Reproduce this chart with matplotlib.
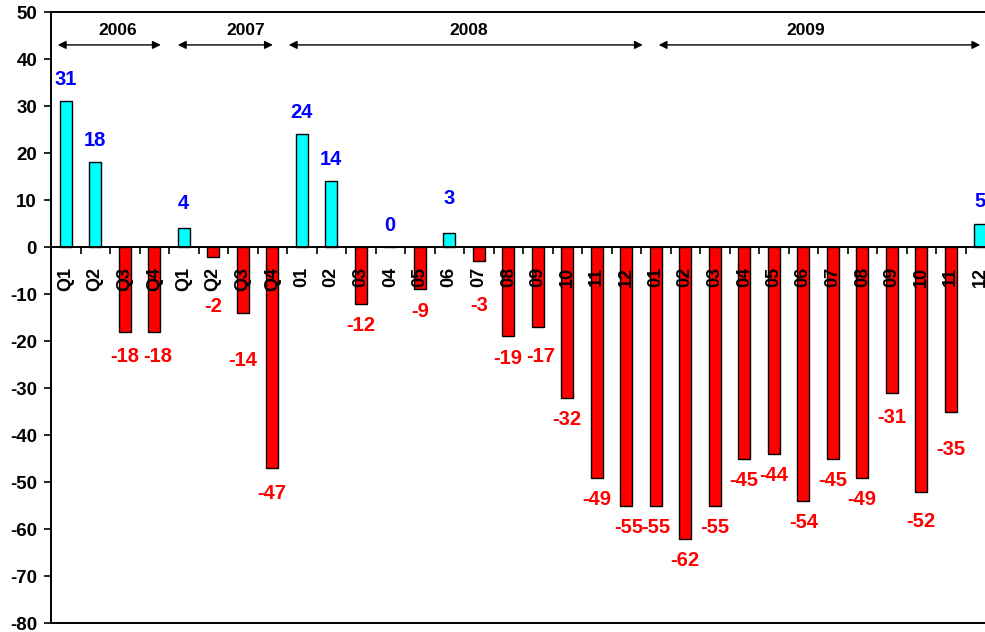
import numpy as np
import matplotlib
matplotlib.use("Agg")
import matplotlib.pyplot as plt

# categories: 2006-2007 quarterly, 2008-2009 monthly
categories = ["Q1", "Q2", "Q3", "Q4", "Q1", "Q2", "Q3", "Q4",
              "01", "02", "03", "04", "05", "06", "07", "08", "09", "10", "11", "12",
              "01", "02", "03", "04", "05", "06", "07", "08", "09", "10", "11", "12"]
values = [31, 18, -18, -18, 4, -2, -14, -47,
          24, 14, -12, 0, -9, 3, -3, -19, -17, -32, -49, -55,
          -55, -62, -55, -45, -44, -54, -45, -49, -31, -52, -35, 5]
years = ["2006", "2007", "2008", "2009"]
# arrow spans (in category index units) and year text positions
year_start = [-0.27, 3.8, 7.56, 20.1]
year_end = [3.22, 7.02, 19.56, 31.0]
year_text_x = [1.76, 6.1, 13.66, 25.08]

# label gap tweaks where the original labels were nudged
gap_default = 4.6
gap_tweak = {2: 5.3, 3: 5.3, 4: 5.2, 5: 10.6, 6: 10.2, 7: 5.5, 13: 7.4, 14: 9.4,
             16: 6.2, 28: 5.3, 29: 6.4, 30: 8.1}
x_tweak = {3: 0.12, 16: 0.1, 19: 0.08}

plt.rcParams['font.family'] = ['Liberation Sans', 'DejaVu Sans']
plt.rcParams['font.weight'] = 'bold'
plt.rcParams['axes.unicode_minus'] = False

fig = plt.figure(figsize=(9.85, 6.32), dpi=100)
ax = fig.add_axes([51 / 985, 8.7 / 632, 944 / 985, 611.3 / 632])

x = np.arange(len(values))
colors = ['#00FFFF' if v >= 0 else '#FF0000' for v in values]
ax.bar(x, values, width=0.41, color=colors, edgecolor='black', linewidth=1.0, zorder=1)

# value labels
for i, v in enumerate(values):
    gap = gap_tweak.get(i, gap_default)
    xi = i + x_tweak.get(i, 0)
    if v >= 0:
        ax.text(xi, v + gap, str(v), color='#0000FF', fontsize=14.5, fontweight='bold',
                ha='center', va='center', zorder=5)
    else:
        ax.text(xi, v - gap, str(v), color='#FF0000', fontsize=14.5, fontweight='bold',
                ha='center', va='center', zorder=5)

ax.set_xlim(-0.5, len(values) - 0.5)
ax.set_ylim(-80, 50)
ax.set_yticks(np.arange(-80, 51, 10))
ax.tick_params(axis='y', direction='out', length=5, width=1.2, pad=5, labelsize=13.5)
for lab in ax.get_yticklabels():
    lab.set_fontweight('bold')

# x axis sits on the zero line, with tick marks at the category boundaries
ax.spines['bottom'].set_position(('data', 0))
ax.set_xticks(x)
ax.set_xticklabels(categories, rotation=90, fontsize=13, fontweight='bold')
ax.set_xticks(np.arange(-0.5, len(values), 1), minor=True)
ax.tick_params(axis='x', which='major', length=0, pad=14)
ax.tick_params(axis='x', which='minor', direction='out', length=5, width=1.2)

for sp in ['left', 'top', 'right', 'bottom']:
    ax.spines[sp].set_linewidth(1.4)
# frame bottom at -80
ax.plot([0, 1], [0, 0], transform=ax.transAxes, color='black', lw=1.4, clip_on=False)

# year arrows
for name, s, e, tx in zip(years, year_start, year_end, year_text_x):
    ax.annotate('', xy=(e, 43), xytext=(s, 43),
                arrowprops=dict(arrowstyle='<|-|>', color='black', lw=1.0,
                                mutation_scale=12, shrinkA=0, shrinkB=0))
    ax.text(tx, 46.0, name, ha='center', va='center', fontsize=12.5, fontweight='bold')

fig.savefig("out.png", dpi=100)
